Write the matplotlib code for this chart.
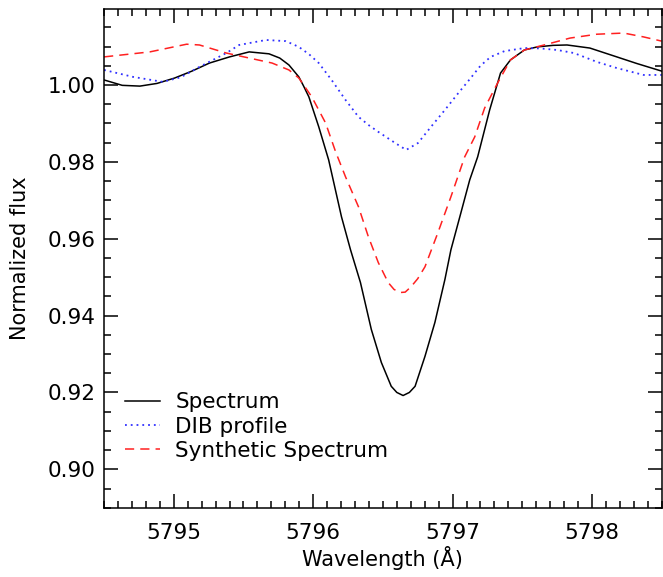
import matplotlib
matplotlib.use("Agg")
import matplotlib.pyplot as plt
from matplotlib.ticker import MultipleLocator

# Spectrum (black, solid)
wl_spec = [5794.50, 5794.63, 5794.757, 5794.88, 5795.006, 5795.13, 5795.256, 5795.40,
           5795.541, 5795.683, 5795.76, 5795.826, 5795.897, 5795.93,
           5795.969, 5796.040, 5796.111, 5796.203, 5796.268, 5796.339, 5796.417, 5796.489,
           5796.560, 5796.60, 5796.645, 5796.69, 5796.731, 5796.802, 5796.873, 5796.945,
           5796.988, 5797.052, 5797.123, 5797.180, 5797.266, 5797.344, 5797.415, 5797.515,
           5797.608, 5797.72, 5797.821, 5797.985, 5798.178, 5798.32, 5798.50]
flux_spec = [1.0013, 0.9999, 0.9997, 1.0004, 1.0018, 1.0036, 1.0057, 1.0073,
             1.0086, 1.0081, 1.0070, 1.0052, 1.0021, 0.9998,
             0.9969, 0.9891, 0.9805, 0.9657, 0.9571, 0.9486, 0.9364, 0.9278,
             0.9216, 0.9200, 0.9192, 0.9200, 0.9216, 0.9294, 0.9382, 0.9494,
             0.9571, 0.9657, 0.9753, 0.9813, 0.9935, 1.0031, 1.0065, 1.0091,
             1.0099, 1.0103, 1.0104, 1.0096, 1.0073, 1.0056, 1.0036]

# DIB profile (blue, dotted)
wl_dib = [5794.50, 5794.707, 5794.921, 5795.05, 5795.184, 5795.377, 5795.469, 5795.662,
          5795.804, 5795.897, 5795.97, 5796.040, 5796.132, 5796.232, 5796.325, 5796.40,
          5796.467, 5796.588, 5796.667, 5796.752, 5796.845, 5796.945, 5797.037, 5797.130,
          5797.20, 5797.273, 5797.372, 5797.515, 5797.63, 5797.750, 5797.871, 5798.035,
          5798.178, 5798.370, 5798.50]
flux_dib = [1.0039, 1.0021, 1.0008, 1.0020, 1.0047, 1.0083, 1.0104, 1.0117,
            1.0114, 1.0099, 1.0080, 1.0057, 1.0013, 0.9961, 0.9917, 0.9895,
            0.9878, 0.9849, 0.9831, 0.9849, 0.9891, 0.9935, 0.9977, 1.0018,
            1.0050, 1.0073, 1.0088, 1.0096, 1.0095, 1.0091, 1.0083, 1.0060,
            1.0044, 1.0026, 1.0026]

# Synthetic spectrum (red, dashed)
wl_syn = [5794.50, 5794.828, 5795.092, 5795.184, 5795.377, 5795.541, 5795.705, 5795.826,
          5795.897, 5795.990, 5796.089, 5796.161, 5796.232, 5796.325, 5796.396, 5796.467,
          5796.538, 5796.58, 5796.624, 5796.66, 5796.702, 5796.75, 5796.802, 5796.895,
          5796.988, 5797.087, 5797.159, 5797.230, 5797.323, 5797.415, 5797.515, 5797.657,
          5797.843, 5798.035, 5798.228, 5798.370, 5798.50]
flux_syn = [1.0073, 1.0086, 1.0106, 1.0104, 1.0083, 1.0070, 1.0057, 1.0039,
            1.0018, 0.9969, 0.9901, 0.9826, 0.9761, 0.9683, 0.9605, 0.9538,
            0.9486, 0.9468, 0.9460, 0.9461, 0.9475, 0.9496, 0.9527, 0.9616,
            0.9709, 0.9813, 0.9865, 0.9940, 1.0005, 1.0065, 1.0091, 1.0104,
            1.0122, 1.0132, 1.0135, 1.0125, 1.0114]

plt.rcParams['font.family'] = 'DejaVu Sans'

fig = plt.figure(figsize=(6.63, 5.77), dpi=100)
ax = fig.add_axes([0.157, 0.12, 0.841, 0.864])

ax.plot(wl_spec, flux_spec, color='black', lw=1.1, label='Spectrum')
ax.plot(wl_dib, flux_dib, color='#3030ff', lw=1.3, ls=(0, (1, 2.2)), label='DIB profile')
ax.plot(wl_syn, flux_syn, color='#ff2020', lw=1.1, ls=(0, (6, 4)), label='Synthetic Spectrum')

ax.set_xlim(5794.5, 5798.5)
ax.set_ylim(0.89, 1.0197)
ax.xaxis.set_major_locator(MultipleLocator(1))
ax.xaxis.set_minor_locator(MultipleLocator(0.1))
ax.yaxis.set_major_locator(MultipleLocator(0.02))
ax.yaxis.set_minor_locator(MultipleLocator(0.005))
ax.yaxis.set_major_formatter(plt.FormatStrFormatter('%.2f'))
ax.xaxis.set_major_formatter(plt.FormatStrFormatter('%d'))

ax.tick_params(which='both', direction='in', top=True, right=True, width=1.1)
ax.tick_params(which='major', length=10)
ax.tick_params(which='minor', length=5)
ax.tick_params(axis='x', which='major', pad=11, labelsize=15.5)
ax.tick_params(axis='y', which='major', pad=6, labelsize=15.5)
for s in ax.spines.values():
    s.set_linewidth(1.1)

ax.set_xlabel('Wavelength (Å)', fontsize=15, labelpad=2)
ax.set_ylabel('Normalized flux', fontsize=15, labelpad=13)

ax.legend(loc='lower left', bbox_to_anchor=(0.038, 0.094), frameon=False, fontsize=15.5,
          handlelength=1.6, handletextpad=0.72, labelspacing=0.2, borderaxespad=0,
          borderpad=0)

fig.savefig('out.png', dpi=100)
